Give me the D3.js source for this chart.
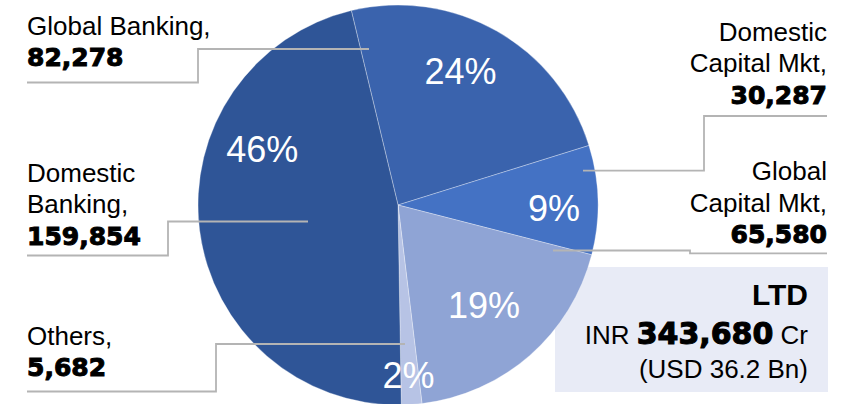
<!DOCTYPE html>
<html>
<head>
<meta charset="utf-8">
<script src="https://cdn.jsdelivr.net/npm/d3@7"></script>
<style>
  html, body { margin: 0; padding: 0; background: #ffffff; }
  svg { display: block; }
</style>
</head>
<body>
<svg id="chart" width="853" height="404"></svg>
<script>
// Loan book (LTD) split by business line, INR Cr
const segments = ["Global Banking", "Domestic Capital Mkt", "Global Capital Mkt", "Others", "Domestic Banking"];
const amounts = [82278, 30287, 65580, 5682, 159854];
const shareLabels = ["24%", "9%", "19%", "2%", "46%"];
const sliceColors = ["#3a63ad", "#4472c4", "#8fa4d5", "#b7c3e5", "#2f5597"];

// Summary box
const totalTitle = "LTD";
const totalInr = "343,680";
const totalUsd = "(USD 36.2 Bn)";

// Callout text lines (last line is the bold amount)
const calloutNames = [
  ["Global Banking,"],
  ["Domestic", "Capital Mkt,"],
  ["Global", "Capital Mkt,"],
  ["Others,"],
  ["Domestic", "Banking,"]
];

// ---- layout ----
const cx = 398, cy = 205, radius = 200;
const startDeg = -13.5;
const regularFont = "'Liberation Sans', Arial, sans-serif";
const heavyFont = "'DejaVu Sans', 'Liberation Sans', sans-serif";

// placement of the percentage labels (polar, from the pie centre)
const pctPlacement = [
  { angle: 25, r: 148 },
  { angle: 91, r: 156 },
  { angle: 139.3, r: 132 },
  { angle: 176.5, r: 170 },
  { angle: 292.5, r: 147 }
];

// callout blocks: text anchor, first baseline, and leader polyline
const callouts = [
  { x: 27, anchor: "start", y0: 35, line: [[27, 82.5], [198, 82.5], [198, 49], [369, 49]] },
  { x: 827, anchor: "end", y0: 40.7, line: [[827, 116], [704, 116], [704, 170.7], [583, 170.7]] },
  { x: 827, anchor: "end", y0: 180, line: [[827, 253.3], [690, 253.3], [690, 250.5], [553, 250.5]] },
  { x: 27, anchor: "start", y0: 345, line: [[27, 391.5], [216, 391.5], [216, 344], [405, 344]] },
  { x: 27, anchor: "start", y0: 181.7, line: [[27, 255.5], [168, 255.5], [168, 221.5], [308, 221.5]] }
];
const lineGap = 31.6;

const svg = d3.select("#chart");
const fmt = d3.format(",");

// summary box sits under the pie
const box = svg.append("g");
box.append("rect")
  .attr("x", 555).attr("y", 267).attr("width", 273).attr("height", 125)
  .attr("fill", "#e8ebf6");
box.append("text")
  .attr("x", 808).attr("y", 305)
  .attr("text-anchor", "end")
  .attr("font-family", regularFont).attr("font-weight", "bold").attr("font-size", 30)
  .attr("fill", "#000")
  .text(totalTitle);
const inrLine = box.append("text")
  .attr("x", 808).attr("y", 343.5)
  .attr("text-anchor", "end")
  .attr("font-family", regularFont).attr("font-size", 26)
  .attr("fill", "#000");
inrLine.append("tspan").text("INR ");
inrLine.append("tspan")
  .attr("font-family", heavyFont).attr("font-weight", "bold").attr("font-size", 30)
  .attr("stroke", "#000").attr("stroke-width", 1.1)
  .text(totalInr);
inrLine.append("tspan").text(" Cr");
box.append("text")
  .attr("x", 808).attr("y", 377.5)
  .attr("text-anchor", "end")
  .attr("font-family", regularFont).attr("font-size", 26)
  .attr("fill", "#000")
  .text(totalUsd);

// pie
const toRad = d => d * Math.PI / 180;
const pie = d3.pie().sort(null)
  .startAngle(toRad(startDeg))
  .endAngle(toRad(startDeg + 360));
const arcs = pie(amounts);
const arc = d3.arc().innerRadius(0).outerRadius(radius);

const pieG = svg.append("g").attr("transform", `translate(${cx},${cy})`);
pieG.selectAll("path.slice")
  .data(arcs)
  .join("path")
  .attr("class", "slice")
  .attr("d", arc)
  .attr("fill", (d, i) => sliceColors[i])
  .attr("stroke", "rgba(255,255,255,0.45)")
  .attr("stroke-width", 0.7)
  .attr("stroke-linejoin", "round");

// leader lines
const lineGen = d3.line();
svg.append("g")
  .selectAll("path")
  .data(callouts)
  .join("path")
  .attr("d", d => lineGen(d.line))
  .attr("fill", "none")
  .attr("stroke", "#b4b4b4")
  .attr("stroke-width", 1.8);

// percentage labels
pieG.selectAll("text.pct")
  .data(arcs)
  .join("text")
  .attr("class", "pct")
  .attr("x", (d, i) => pctPlacement[i].r * Math.sin(toRad(pctPlacement[i].angle)))
  .attr("y", (d, i) => -pctPlacement[i].r * Math.cos(toRad(pctPlacement[i].angle)))
  .attr("dy", "0.36em")
  .attr("text-anchor", "middle")
  .attr("font-family", regularFont)
  .attr("font-size", 36)
  .attr("fill", "#ffffff")
  .text((d, i) => shareLabels[i]);

// callout labels
callouts.forEach((c, i) => {
  const t = svg.append("text")
    .attr("text-anchor", c.anchor)
    .attr("fill", "#000");
  calloutNames[i].forEach((line, j) => {
    t.append("tspan")
      .attr("x", c.x).attr("y", c.y0 + j * lineGap)
      .attr("font-family", regularFont).attr("font-size", 26)
      .text(line);
  });
  t.append("tspan")
    .attr("x", c.x).attr("y", c.y0 + calloutNames[i].length * lineGap - 0.3)
    .attr("font-family", heavyFont).attr("font-weight", "bold").attr("font-size", 25)
    .attr("stroke", "#000").attr("stroke-width", 1.0)
    .text(fmt(amounts[i]));
});
</script>
</body>
</html>
